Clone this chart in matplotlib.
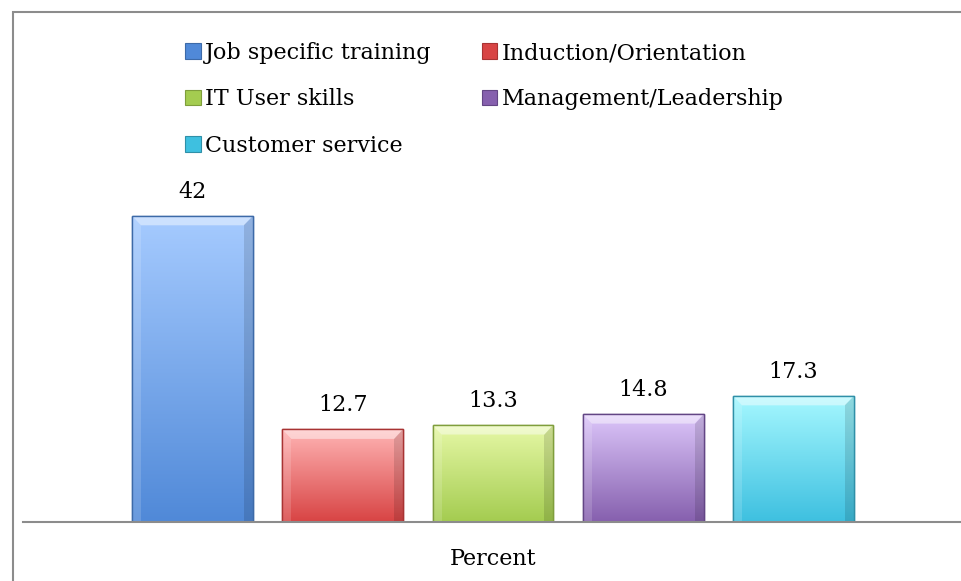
import numpy as np
import matplotlib
matplotlib.use("Agg")
import matplotlib.pyplot as plt
from matplotlib.patches import Rectangle, Polygon
from matplotlib.colors import to_rgb

# data
categories = ["Job specific training", "Induction/Orientation", "IT User skills",
              "Management/Leadership", "Customer service"]
values = [42, 12.7, 13.3, 14.8, 17.3]
top_colors = ["#a6cbff", "#ffb4b4", "#e6f8a6", "#dcc6fa", "#a6f8ff"]
bottom_colors = ["#5089d8", "#d84444", "#a4cc50", "#8660ae", "#3ec0e0"]
edge_colors = ["#3d6aa8", "#a83333", "#7f9e3c", "#634685", "#2f90a8"]

plt.rcParams["font.family"] = ["DejaVu Serif"]

fig = plt.figure(figsize=(9.62, 5.81), dpi=100)
ax = fig.add_axes([23 / 962, 1 - 522 / 581, 940 / 962, (522 - 157.5) / 581])

x = np.arange(len(values))
width = 0.805
bars = ax.bar(x, values, width=width, color=bottom_colors, edgecolor=edge_colors,
              linewidth=1.0, zorder=2)

# gradient fill + bevel look
for rect, c_top, c_bot in zip(bars, top_colors, bottom_colors):
    x0 = rect.get_x()
    x1 = x0 + rect.get_width()
    h = rect.get_height()
    t = np.linspace(0, 1, 128)[:, None]
    grad = np.array(to_rgb(c_bot))[None, :] * (1 - t) + np.array(to_rgb(c_top))[None, :] * t
    grad = np.repeat(grad[:, None, :], 2, axis=1)
    im = ax.imshow(grad, extent=(x0, x1, 0, h), origin="lower", aspect="auto", zorder=3)
    im.set_clip_path(rect)
    bev = 1.3
    bw = 0.06
    ax.add_patch(Polygon([(x0, h), (x1, h), (x1 - bw, h - bev), (x0 + bw, h - bev)],
                         closed=True, facecolor="white", alpha=0.45, lw=0, zorder=4))
    ax.add_patch(Polygon([(x1, h), (x1, 0), (x1 - bw, 0), (x1 - bw, h - bev)],
                         closed=True, facecolor="black", alpha=0.12, lw=0, zorder=4))
    ax.add_patch(Polygon([(x0, h), (x0, 0), (x0 + bw, 0), (x0 + bw, h - bev)],
                         closed=True, facecolor="white", alpha=0.15, lw=0, zorder=4))
    ax.add_patch(Rectangle((x0, 0), rect.get_width(), h, facecolor="none",
                           edgecolor=rect.get_edgecolor(), lw=1.0, zorder=5))

for xi, v in zip(x, values):
    ax.annotate(f"{v:g}", (xi, v), xytext=(0, 9.5), textcoords="offset points",
                ha="center", va="bottom", fontsize=16)

ax.set_xlim(-1.128, 5.128)
ax.set_ylim(0, 50)
for s in ["top", "right", "left"]:
    ax.spines[s].set_visible(False)
ax.spines["bottom"].set_color("#8c8c8c")
ax.spines["bottom"].set_linewidth(1.5)
ax.spines["bottom"].set_zorder(6)
ax.set_yticks([])
ax.set_xticks([])
ax.set_xlabel("Percent", fontsize=16, labelpad=19)

# legend, row-major order like the original
order = [0, 2, 4, 1, 3]
handles = [Rectangle((0, 0), 1, 1, facecolor=bottom_colors[i], edgecolor=edge_colors[i], lw=0.8)
           for i in order]
fig.legend(handles, [categories[i] for i in order], ncol=2, frameon=False,
           loc="upper left", bbox_to_anchor=(185 / 962, 1 - 42 / 581), borderpad=0,
           borderaxespad=0, fontsize=16, handlelength=0.7, handleheight=0.7,
           handletextpad=0.2, labelspacing=1.1, columnspacing=2.25)

# chart border (cut off on right and bottom)
fig.add_artist(Rectangle((13 / 962, -0.1), 1.2, 1.1 - 12 / 581, transform=fig.transFigure,
                         facecolor="none", edgecolor="#8c8c8c", lw=1.5))

fig.savefig("out.png", dpi=100)
